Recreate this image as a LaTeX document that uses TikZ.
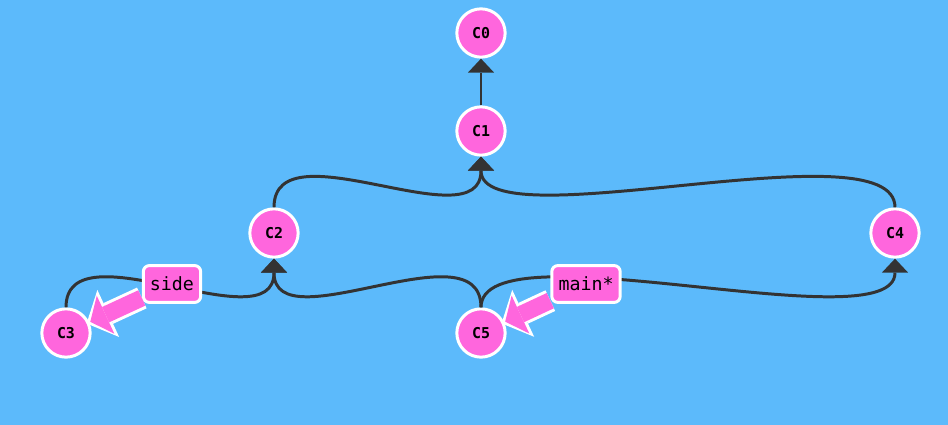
\documentclass[tikz,border=0pt]{standalone}
\usepackage{fontspec}
\setmonofont{DejaVu Sans Mono}
\usetikzlibrary{arrows.meta}
\definecolor{skyblue}{RGB}{92,186,251}
\definecolor{commitpink}{RGB}{255,102,221}
\definecolor{edgegray}{RGB}{51,51,51}
\tikzset{
  commit/.style={circle, draw=white, fill=commitpink, line width=1.7pt,
    minimum size=27.5pt, inner sep=0pt, font=\ttfamily\bfseries\fontsize{8.5}{10}\selectfont},
  branch/.style={rectangle, rounded corners=3.5pt, draw=white, fill=commitpink, line width=1.7pt,
    minimum height=21pt, inner xsep=3.8pt, font=\ttfamily\fontsize{10.4}{12}\selectfont},
  parent/.style={edgegray, line width=1.7pt, -{Triangle[length=8pt, width=15pt, line width=0pt]}},
  tagout/.style={white, line width=13pt, shorten >=-1.7pt,
    -{Triangle[length=13.6pt, width=29.5pt, line width=0pt]}},
  tagin/.style={commitpink, line width=9.6pt, shorten >=0.6pt,
    -{Triangle[length=9.6pt, width=23.8pt, line width=0pt]}},
}
\begin{document}
\begin{tikzpicture}[x=0.02cm, y=-0.02cm]

%% --- background ---
\fill[skyblue] (0,0) rectangle (948,425);

%% --- commits ---
\node[commit] (c0) at (481,33)  {C0};
\node[commit] (c1) at (481,131) {C1};
\node[commit] (c2) at (274,233) {C2};
\node[commit] (c4) at (895,233) {C4};
\node[commit] (c3) at (66,333)  {C3};
\node[commit] (c5) at (481,333) {C5};

%% --- parent links ---
\draw[parent] (c1) -- (c0);
\foreach \tail/\head in {c2/c1, c4/c1, c3/c2, c5/c2, c5/c4}
  \draw[parent] (\tail.north) .. controls +(0,-83) and +(0,86) .. (\head.south);

%% --- branch labels ---
\node[branch] (side) at (172,284) {side};
\node[branch] (main) at (586,284) {main*};

% label arrows: white outline first, pink on top
\foreach \lbl/\tgt in {side/c3, main/c5} {
  \draw[tagout] (\lbl) -- (\tgt);
  \draw[tagin]  (\lbl) -- (\tgt);
}

\end{tikzpicture}
\end{document}
